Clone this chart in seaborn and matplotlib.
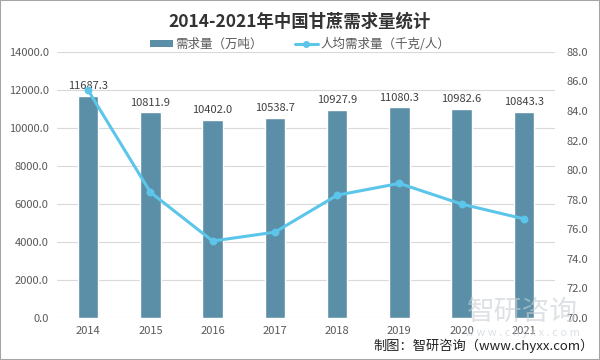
import matplotlib
matplotlib.use("Agg")
import matplotlib.pyplot as plt
from matplotlib.patches import Rectangle, Patch
from matplotlib.lines import Line2D
import seaborn as sns
import pandas as pd

years = ["2014", "2015", "2016", "2017", "2018", "2019", "2020", "2021"]
demand = [11687.3, 10811.9, 10402.0, 10538.7, 10927.9, 11080.3, 10982.6, 10843.3]
per_capita = [85.4, 78.5, 75.2, 75.8, 78.3, 79.1, 77.7, 76.7]

bar_color = "#5B8FA8"
line_color = "#5BC5EA"
tick_color = "#595959"

sns.set_theme(style="white")
plt.rcParams['font.family'] = ['Noto Sans CJK SC', 'DejaVu Sans']

df = pd.DataFrame({"year": years, "demand": demand, "per_capita": per_capita})

fig = plt.figure(figsize=(6, 3.6), dpi=100)
ax = fig.add_axes([0.095, 0.117, 0.83, 0.739])
sns.barplot(data=df, x="year", y="demand", color=bar_color, width=0.33,
            saturation=1, ax=ax, zorder=2)
ax.set_ylim(0, 14000)
ax.set_yticks(range(0, 14001, 2000))
ax.set_yticklabels([f"{v:.1f}" for v in range(0, 14001, 2000)])
ax.grid(axis="y", color="#D9D9D9", linewidth=0.8, zorder=0)
ax.set_axisbelow(True)
ax.set_xlabel("")
ax.set_ylabel("")
for s in ax.spines.values():
    s.set_visible(False)
ax.tick_params(axis="both", length=0, labelsize=8, colors=tick_color, pad=6)

for i, v in enumerate(demand):
    ax.text(i, v + 250, f"{v:.1f}", ha="center", va="bottom", fontsize=8,
            color="#404040", zorder=5)

ax2 = ax.twinx()
sns.pointplot(data=df, x="year", y="per_capita", color=line_color, ax=ax2,
              markers="o", markersize=4, linewidth=2.2)
ax2.set_ylim(70, 88)
ax2.set_yticks(range(70, 89, 2))
ax2.set_yticklabels([f"{v:.1f}" for v in range(70, 89, 2)])
ax2.set_ylabel("")
ax2.set_xlim(-0.5, len(years) - 0.5)
ax.set_xlim(-0.5, len(years) - 0.5)
for s in ax2.spines.values():
    s.set_visible(False)
ax2.tick_params(axis="y", length=0, labelsize=8, colors=tick_color, pad=8)
ax2.grid(False)

fig.text(0.5, 0.94, "2014-2021年中国甘蔗需求量统计", ha="center", va="center",
         fontsize=12.5, fontweight="bold", color="#333333")

handles = [Patch(facecolor=bar_color, edgecolor="none"),
           Line2D([], [], color=line_color, marker="o", markersize=4, linewidth=2.2)]
fig.legend(handles, ["需求量（万吨）", "人均需求量（千克/人）"], loc="center",
           bbox_to_anchor=(0.5, 0.877), ncol=2, frameon=False, fontsize=9,
           handlelength=1.8, handleheight=0.5, handletextpad=0.2,
           columnspacing=2.6, labelcolor="#595959")

# watermark
fig.text(0.87, 0.135, "智研咨询", ha="center", va="center", fontsize=20,
         color="#C8CED4", alpha=0.6, zorder=0)
fig.text(0.87, 0.075, "w w w . c h y x x . c o m", ha="center", va="center",
         fontsize=8, color="#C8CED4", alpha=0.6)

fig.text(0.99, 0.04, "制图：智研咨询（www.chyxx.com）", ha="right", va="center",
         fontsize=9.5, color="#222222")

fig.patches.append(Rectangle((0, 0), 1, 1, transform=fig.transFigure, fill=False,
                             edgecolor="#A6A6A6", linewidth=1.5))

fig.savefig("out.png", dpi=100)
